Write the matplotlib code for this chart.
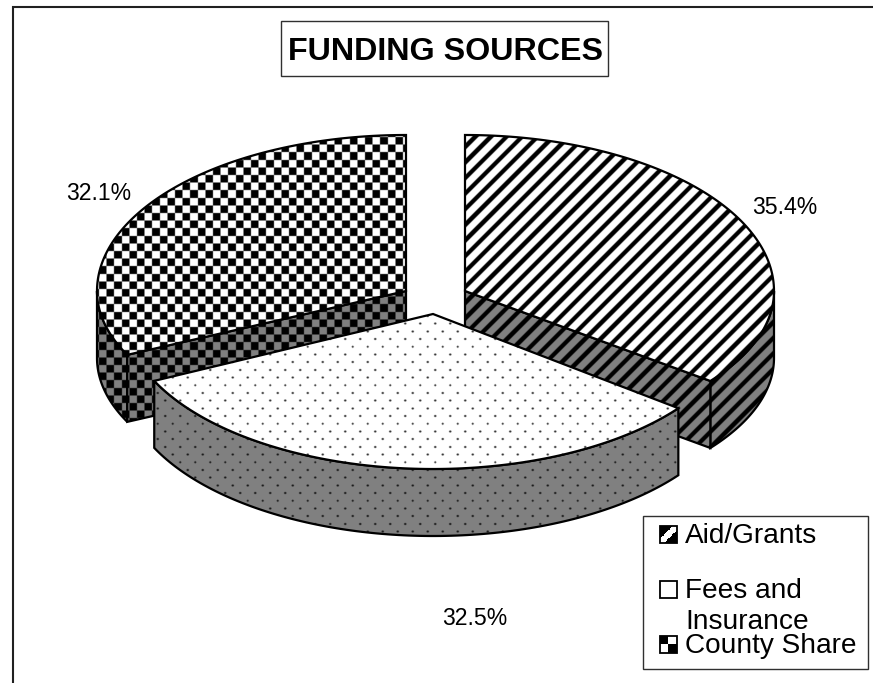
import numpy as np
import matplotlib
matplotlib.use("Agg")
import matplotlib.pyplot as plt
from matplotlib.patches import Polygon, Rectangle

title = "FUNDING SOURCES"
categories = ["Aid/Grants", "Fees and\nInsurance", "County Share"]
shares = [35.4, 32.5, 32.1]

W, H = 873, 683
plt.rcParams['font.family'] = ['Liberation Sans', 'DejaVu Sans']
fig = plt.figure(figsize=(W / 100, H / 100), dpi=100)
ax = fig.add_axes([0, 0, 1, 1])
ax.set_xlim(0, W)
ax.set_ylim(H, 0)
ax.axis('off')

# --- pixel-level fill textures ---
yy, xx = np.mgrid[0:H * 2, 0:W * 2] / 2.0


def stripes():
    return ((yy + xx) % 15.6) < 6.2


def checks():
    return ((np.floor(xx / 7.6) + np.floor(yy / 7.6)) % 2) == 0


def dots():
    u = ((xx + 7.5) % 15.0) - 7.5
    v = ((yy + 7.7) % 15.4) - 7.7
    u2 = (xx % 15.0) - 7.5
    v2 = (yy % 15.4) - 7.7
    return ((u ** 2 + v ** 2 < 1.2) | (u2 ** 2 + v2 ** 2 < 1.2)) * 0.8


textures = [stripes(), dots(), checks()]
black_rgba = np.zeros((H * 2, W * 2, 4))


def pattern_image(mask):
    img = black_rgba.copy()
    img[..., 3] = mask.astype(float)
    return img


# --- pie geometry: slices computed from the shares ---
A, B_BACK, DEPTH = 309, 156, 67
B_NEAR = [148, 155, 148]
centres = [(465, 291), (433, 314), (406, 291)]
fracs = np.array(shares) / sum(shares)
edges = np.concatenate([[0], np.cumsum(fracs)]) * 360.0
LW = 1.6


def arc(i, t0, t1, n=120):
    c = centres[i]
    t = np.radians(np.linspace(t0, t1, n))
    cs = np.cos(t)
    b = np.where(cs >= 0, B_BACK, B_NEAR[i])
    return np.column_stack([c[0] + A * np.sin(t), c[1] - b * cs])


z = [2]


def piece(pts, face, tex):
    p = Polygon(pts, closed=True, facecolor=face, edgecolor='none', zorder=z[0])
    ax.add_patch(p)
    im = ax.imshow(pattern_image(tex), extent=(0, W, H, 0), aspect='auto',
                   interpolation='bilinear', zorder=z[0] + 0.1)
    im.set_clip_path(p)
    ax.add_patch(Polygon(pts, closed=True, facecolor='none', edgecolor='black',
                         linewidth=LW, joinstyle='miter', zorder=z[0] + 0.2))
    z[0] += 1


def wedge(i):
    cp = np.array(centres[i], float)
    t0, t1 = edges[i], edges[i + 1]
    down = np.array([0, DEPTH])
    rim = arc(i, t0, t1)
    tex = textures[i]
    # outer wall: only the part of the rim facing the viewer
    v0, v1 = max(t0, 90), min(t1, 270)
    if v1 > v0:
        a = arc(i, v0, v1)
        piece(np.vstack([a, (a + down)[::-1]]), '#808080', tex)
    # radial walls that can be seen
    if i == 0:
        e = rim[-1]
        piece(np.array([cp, e, e + down, cp + down]), '#808080', tex)
    if i == 2:
        e = rim[0]
        piece(np.array([cp, e, e + down, cp + down]), '#808080', tex)
    # top face
    piece(np.vstack([[cp], rim]), 'white', tex)


for i in [2, 0, 1]:
    wedge(i)

# --- chart frame (left and top edges only show) ---
ax.plot([13, 13, W], [H, 6.5, 6.5], color='#202020', lw=1.5, solid_joinstyle='miter',
        zorder=1, clip_on=False)

# --- title ---
ax.add_patch(Rectangle((281, 21), 327, 55, facecolor='white', edgecolor='#303030',
                       linewidth=1.0, zorder=29))
ax.text(445, 60, title, fontsize=23.2, fontweight='bold', ha='center', va='baseline',
        zorder=30)

# --- percentage labels ---
label_pos = [(785, 214), (475, 625), (99, 200)]
for s, (x, y) in zip(shares, label_pos):
    ax.text(x, y, f"{s:.1f}%", fontsize=16.6, ha='center', va='baseline', zorder=30)

# --- legend ---
ax.add_patch(Rectangle((643, 516), 225, 153, facecolor='white', edgecolor='#303030',
                       linewidth=1.0, zorder=29))
baselines = [543, 598, 653]
LINE = 31
for name, base in zip(categories, baselines):
    for j, part in enumerate(name.split("\n")):
        ax.text(685, base + j * LINE, part, fontsize=20.2, va='baseline', ha='left', zorder=30)

n = 14
gy, gx = np.mgrid[0:n, 0:n]
swatches = [
    (np.abs(gx + gy - (n - 1)) >= 4).astype(float),
    np.zeros((n, n)),
    ((gx < n / 2) == (gy < n / 2)).astype(float),
]
for arr, base in zip(swatches, baselines):
    x0, y0, s = 660, base - 17, 17
    ax.imshow(arr, cmap='gray_r', vmin=0, vmax=1, extent=(x0, x0 + s, y0 + s, y0),
              aspect='auto', interpolation='nearest', zorder=31)
    ax.add_patch(Rectangle((x0, y0), s, s, facecolor='none', edgecolor='black',
                           linewidth=1.3, zorder=32))

ax.set_xlim(0, W)
ax.set_ylim(H, 0)
fig.savefig("out.png", dpi=100, facecolor='white')
